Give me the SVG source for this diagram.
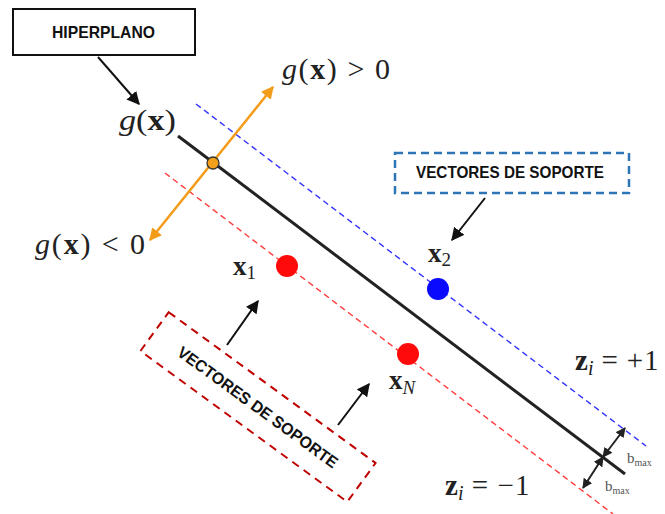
<svg xmlns="http://www.w3.org/2000/svg" width="665" height="514" viewBox="0 0 665 514">
<style>
.lbl{font-family:"Liberation Sans",Arial,sans-serif;font-weight:bold;font-size:16.5px;fill:#111}
.m{font-family:"Liberation Serif","DejaVu Serif",serif;fill:#222}
.arr{stroke:#111;stroke-width:2;fill:none}
.sub{font-family:"Liberation Serif",serif;fill:#555}
</style>
<defs>
<marker id="ah" viewBox="0 0 10 10" refX="9" refY="5" markerWidth="6.5" markerHeight="6.5" orient="auto-start-reverse" markerUnits="strokeWidth">
<path d="M0,0 L10,5 L0,10 z" fill="#111"/>
</marker>
<marker id="ahs" viewBox="0 0 10 10" refX="9" refY="5" markerWidth="5" markerHeight="5" orient="auto-start-reverse" markerUnits="strokeWidth">
<path d="M0,0 L10,5 L0,10 z" fill="#222"/>
</marker>
<marker id="ao" viewBox="0 0 10 10" refX="9" refY="5" markerWidth="5" markerHeight="5" orient="auto-start-reverse" markerUnits="strokeWidth">
<path d="M0,0 L10,5 L0,10 z" fill="#f39c1a"/>
</marker>
</defs>

<g id="connectors">
<line x1="196" y1="104" x2="646" y2="446" stroke="#3333ff" stroke-width="1.4" stroke-dasharray="6,4"/>
<line x1="165" y1="173" x2="613" y2="514" stroke="#ff3b3b" stroke-width="1.4" stroke-dasharray="6,4"/>
<line x1="178" y1="136" x2="625" y2="474" stroke="#222" stroke-width="3"/>
<line x1="150" y1="240" x2="273" y2="87" stroke="#f39c1a" stroke-width="2.5" marker-start="url(#ao)" marker-end="url(#ao)"/>
<line x1="98" y1="57" x2="139" y2="104" class="arr" marker-end="url(#ah)"/>
<line x1="485" y1="198" x2="452" y2="240" class="arr" marker-end="url(#ah)"/>
<line x1="227" y1="345" x2="258" y2="301" class="arr" marker-end="url(#ah)"/>
<line x1="338" y1="425" x2="369" y2="384" class="arr" marker-end="url(#ah)"/>
<line x1="603" y1="457" x2="625" y2="428" stroke="#222" stroke-width="2" marker-start="url(#ahs)" marker-end="url(#ahs)"/>
<line x1="603" y1="457" x2="583" y2="488" stroke="#222" stroke-width="2" marker-start="url(#ahs)" marker-end="url(#ahs)"/>
</g>

<g id="origin">
<circle cx="213" cy="163" r="6" fill="#f5a01a" stroke="#333" stroke-width="1.3"/>
</g>

<g id="hiperplano">
<rect x="13" y="9" width="182" height="46" fill="#fff" stroke="#111" stroke-width="2"/>
<text class="lbl" x="52" y="38" textLength="103" lengthAdjust="spacingAndGlyphs">HIPERPLANO</text>
</g>

<g id="vectores-azul">
<rect x="395" y="153" width="234" height="40" fill="#fff" stroke="#2e75b6" stroke-width="2.5" stroke-dasharray="8,5"/>
<text class="lbl" x="416" y="178" textLength="188" lengthAdjust="spacingAndGlyphs">VECTORES DE SOPORTE</text>
</g>

<g id="vectores-rojo" transform="translate(258,407) rotate(36.1)">
<rect x="-128" y="-24" width="256" height="48" fill="#fff" stroke="#c00000" stroke-width="2" stroke-dasharray="8,6"/>
<text class="lbl" x="-97" y="6" textLength="194" lengthAdjust="spacingAndGlyphs">VECTORES DE SOPORTE</text>
</g>

<g id="x1">
<circle cx="287" cy="266" r="11" fill="#ff0a0a"/>
<text class="m" x="233" y="275" font-size="27"><tspan font-weight="bold">x</tspan><tspan font-size="19" dy="4">1</tspan></text>
</g>
<g id="x2">
<circle cx="438" cy="289" r="11" fill="#0a0aff"/>
<text class="m" x="428" y="262" font-size="27"><tspan font-weight="bold">x</tspan><tspan font-size="19" dy="4">2</tspan></text>
</g>
<g id="xN">
<circle cx="408" cy="354" r="11" fill="#ff0a0a"/>
<text class="m" x="389" y="389" font-size="27"><tspan font-weight="bold">x</tspan><tspan font-size="19" font-style="italic" dy="5">N</tspan></text>
</g>

<g id="labels">
<text class="m" x="119" y="130" font-size="30" textLength="57" lengthAdjust="spacingAndGlyphs"><tspan font-style="italic">g</tspan>(<tspan font-weight="bold">x</tspan>)</text>
<text class="m" x="282" y="79" font-size="30" textLength="108"><tspan font-style="italic">g</tspan>(<tspan font-weight="bold">x</tspan>) &gt; 0</text>
<text class="m" x="35" y="254" font-size="30" textLength="110"><tspan font-style="italic">g</tspan>(<tspan font-weight="bold">x</tspan>) &lt; 0</text>
<text class="m" x="575" y="370" font-size="29"><tspan font-weight="bold">z</tspan><tspan font-style="italic" font-size="20" dy="5">i</tspan><tspan dy="-5" textLength="65"> = +1</tspan></text>
<text class="m" x="445" y="495" font-size="29"><tspan font-weight="bold">z</tspan><tspan font-style="italic" font-size="20" dy="5">i</tspan><tspan dy="-5" textLength="66"> = −1</tspan></text>
<text class="sub" x="627" y="463" font-size="15">b<tspan font-size="10" dy="3">max</tspan></text>
<text class="sub" x="605" y="491" font-size="15">b<tspan font-size="10" dy="3">max</tspan></text>
</g>
</svg>
